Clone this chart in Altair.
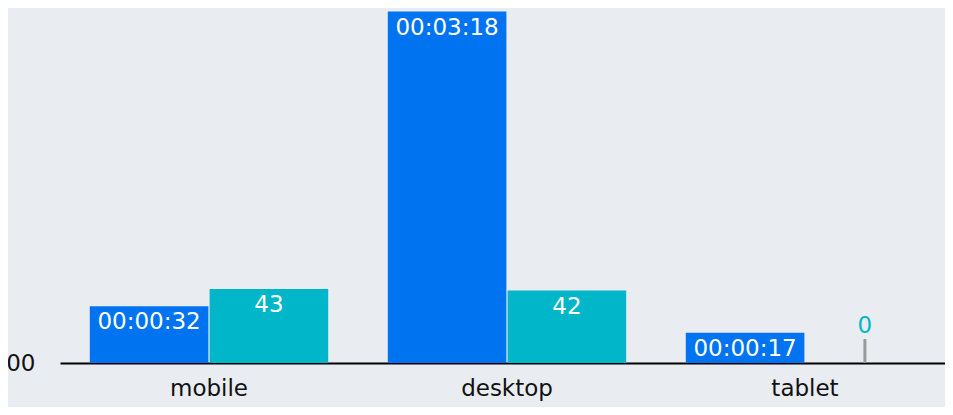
import altair as alt
import pandas as pd

devices = ["mobile", "desktop", "tablet"]
seconds = [32, 198, 17]
counts = [43, 42, 0]


def hms(s):
    return f"{s // 3600:02d}:{(s % 3600) // 60:02d}:{s % 60:02d}"


df = pd.DataFrame({
    "device": devices,
    "seconds": seconds,
    "count": counts,
    "time_label": [hms(s) for s in seconds],
})

BLUE = "#0074f0"
TEAL = "#00b6c8"
BG = "#e9edf1"
FONT = "DejaVu Sans"
FS = 23

x = alt.X(
    "device:N", sort=devices,
    scale=alt.Scale(paddingInner=0.2, paddingOuter=0.1),
    axis=alt.Axis(title=None, labelAngle=0, ticks=False, domainColor="black",
                  domainWidth=2, labelFontSize=FS, labelFont=FONT,
                  labelColor="#111111", labelPadding=14),
)
xo = alt.XOffset("series:N", scale=alt.Scale(domain=["time", "count"], paddingInner=0.01))

base = alt.Chart(df)

y_time = alt.Y(
    "seconds:Q", scale=alt.Scale(domain=[0, 200], nice=False),
    axis=alt.Axis(title=None, values=[0], labelExpr="'00:00:00'", ticks=False,
                  domain=False, grid=False, labelPadding=25, labelFontSize=FS,
                  labelFont=FONT, labelColor="#111111"),
)
y_time_plain = alt.Y("seconds:Q")

blue_base = base.transform_calculate(series="'time'")
blue_bar = blue_base.mark_bar(color=BLUE).encode(x=x, xOffset=xo, y=y_time)
blue_text = blue_base.mark_text(color="white", baseline="middle", dy=16,
                                fontSize=FS, font=FONT).encode(
    x=x, xOffset=xo, y=y_time_plain, text="time_label:N")
blue = alt.layer(blue_bar, blue_text)

y_cnt = alt.Y("count:Q", scale=alt.Scale(domain=[0, 206], nice=False), axis=None)
y_cnt_plain = alt.Y("count:Q")

teal_base = base.transform_calculate(series="'count'")
teal_bar = teal_base.transform_filter("datum.count > 0").mark_bar(color=TEAL).encode(
    x=x, xOffset=xo, y=y_cnt)
teal_text = teal_base.transform_filter("datum.count > 0").mark_text(
    color="white", baseline="middle", dy=16, fontSize=FS, font=FONT).encode(
    x=x, xOffset=xo, y=y_cnt_plain, text="count:Q")
teal_zero_stub = teal_base.transform_filter("datum.count == 0").mark_tick(
    orient="vertical", size=24, thickness=3, color="#999999", opacity=1,
    yOffset=-12).encode(
    x=x, xOffset=xo, y=y_cnt_plain)
teal_zero_text = teal_base.transform_filter("datum.count == 0").mark_text(
    color=TEAL, baseline="middle", dy=-37, fontSize=FS, font=FONT).encode(
    x=x, xOffset=xo, y=y_cnt_plain, text="count:Q")
teal = alt.layer(teal_bar, teal_text, teal_zero_stub, teal_zero_text)

chart = alt.layer(blue, teal).resolve_scale(y="independent").properties(
    width=894, height=355,
    autosize=alt.AutoSizeParams(type="none"),
    padding={"left": 52, "top": 0, "right": -9, "bottom": 44},
    background=BG,
).configure_view(stroke=None)

chart.save("out.html", embed_options={"renderer": "svg", "actions": False})
